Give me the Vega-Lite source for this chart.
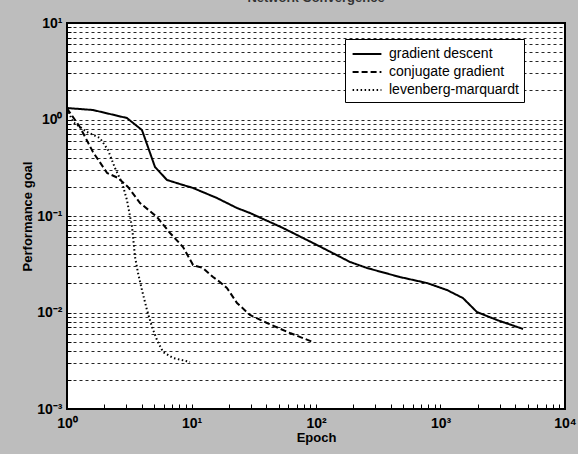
{
  "$schema": "https://vega.github.io/schema/vega-lite/v6.json",
  "width": 498,
  "height": 386,
  "autosize": "none",
  "padding": {"left": 67, "top": 23, "right": 13, "bottom": 45},
  "background": "#bdbdbd",
  "title": {"text": "Network Convergence", "fontSize": 13, "font": "Liberation Sans", "fontWeight": "bold", "color": "#333", "offset": 11, "anchor": "middle"},
  "config": {
    "view": {"fill": "white", "stroke": "black", "strokeWidth": 2},
    "axis": {"labelFont": "Liberation Sans", "labelFontWeight": "bold", "labelFontSize": 14, "labelColor": "black", "titleFont": "Liberation Sans", "titleFontWeight": "bold", "titleFontSize": 13, "titleColor": "black", "domain": false, "tickColor": "black", "tickWidth": 1}
  },
  "data": {"values": [
    {"series": "gradient descent", "epoch": 1, "perf": 1.315},
    {"series": "gradient descent", "epoch": 1.617, "perf": 1.254},
    {"series": "gradient descent", "epoch": 3.03, "perf": 1.036},
    {"series": "gradient descent", "epoch": 4.0, "perf": 0.778},
    {"series": "gradient descent", "epoch": 4.47, "perf": 0.519},
    {"series": "gradient descent", "epoch": 5.09, "perf": 0.322},
    {"series": "gradient descent", "epoch": 6.36, "perf": 0.236},
    {"series": "gradient descent", "epoch": 8.55, "perf": 0.2096},
    {"series": "gradient descent", "epoch": 10.3, "perf": 0.195},
    {"series": "gradient descent", "epoch": 16.0, "perf": 0.1536},
    {"series": "gradient descent", "epoch": 23.2, "perf": 0.121},
    {"series": "gradient descent", "epoch": 29.5, "perf": 0.1074},
    {"series": "gradient descent", "epoch": 54.3, "perf": 0.0751},
    {"series": "gradient descent", "epoch": 102, "perf": 0.05},
    {"series": "gradient descent", "epoch": 187.6, "perf": 0.0334},
    {"series": "gradient descent", "epoch": 257, "perf": 0.0289},
    {"series": "gradient descent", "epoch": 473, "perf": 0.0233},
    {"series": "gradient descent", "epoch": 779, "perf": 0.0202},
    {"series": "gradient descent", "epoch": 1127, "perf": 0.0171},
    {"series": "gradient descent", "epoch": 1516, "perf": 0.0141},
    {"series": "gradient descent", "epoch": 1964, "perf": 0.0101},
    {"series": "gradient descent", "epoch": 2843, "perf": 0.00836},
    {"series": "gradient descent", "epoch": 4600, "perf": 0.00675},
    {"series": "conjugate gradient", "epoch": 1, "perf": 1.3},
    {"series": "conjugate gradient", "epoch": 1.27, "perf": 0.836},
    {"series": "conjugate gradient", "epoch": 1.617, "perf": 0.46},
    {"series": "conjugate gradient", "epoch": 2.1, "perf": 0.279},
    {"series": "conjugate gradient", "epoch": 2.57, "perf": 0.248},
    {"series": "conjugate gradient", "epoch": 3.09, "perf": 0.1998},
    {"series": "conjugate gradient", "epoch": 3.86, "perf": 0.1364},
    {"series": "conjugate gradient", "epoch": 5.28, "perf": 0.0977},
    {"series": "conjugate gradient", "epoch": 6.72, "perf": 0.0667},
    {"series": "conjugate gradient", "epoch": 8.55, "perf": 0.0477},
    {"series": "conjugate gradient", "epoch": 10.3, "perf": 0.031},
    {"series": "conjugate gradient", "epoch": 12.37, "perf": 0.0289},
    {"series": "conjugate gradient", "epoch": 14.9, "perf": 0.0233},
    {"series": "conjugate gradient", "epoch": 16.9, "perf": 0.0207},
    {"series": "conjugate gradient", "epoch": 19.3, "perf": 0.0179},
    {"series": "conjugate gradient", "epoch": 23.2, "perf": 0.01255},
    {"series": "conjugate gradient", "epoch": 29.5, "perf": 0.00942},
    {"series": "conjugate gradient", "epoch": 40.4, "perf": 0.00778},
    {"series": "conjugate gradient", "epoch": 61.8, "perf": 0.00613},
    {"series": "conjugate gradient", "epoch": 94.6, "perf": 0.00494},
    {"series": "levenberg-marquardt", "epoch": 1, "perf": 1.3},
    {"series": "levenberg-marquardt", "epoch": 1.117, "perf": 0.942},
    {"series": "levenberg-marquardt", "epoch": 1.447, "perf": 0.742},
    {"series": "levenberg-marquardt", "epoch": 1.84, "perf": 0.643},
    {"series": "levenberg-marquardt", "epoch": 2.135, "perf": 0.483},
    {"series": "levenberg-marquardt", "epoch": 2.43, "perf": 0.314},
    {"series": "levenberg-marquardt", "epoch": 2.77, "perf": 0.22},
    {"series": "levenberg-marquardt", "epoch": 3.03, "perf": 0.1465},
    {"series": "levenberg-marquardt", "epoch": 3.33, "perf": 0.0769},
    {"series": "levenberg-marquardt", "epoch": 3.52, "perf": 0.0376},
    {"series": "levenberg-marquardt", "epoch": 3.72, "perf": 0.0257},
    {"series": "levenberg-marquardt", "epoch": 4.0, "perf": 0.0171},
    {"series": "levenberg-marquardt", "epoch": 4.39, "perf": 0.0106},
    {"series": "levenberg-marquardt", "epoch": 4.82, "perf": 0.00708},
    {"series": "levenberg-marquardt", "epoch": 5.28, "perf": 0.00519},
    {"series": "levenberg-marquardt", "epoch": 5.9, "perf": 0.0039},
    {"series": "levenberg-marquardt", "epoch": 7.1, "perf": 0.00338},
    {"series": "levenberg-marquardt", "epoch": 9.72, "perf": 0.00307}
  ]},
  "mark": {"type": "line", "color": "black", "strokeWidth": 2, "clip": true},
  "encoding": {
    "x": {
      "field": "epoch", "type": "quantitative",
      "scale": {"type": "log", "domain": [1, 10000], "nice": false},
      "axis": {
        "title": "Epoch", "titlePadding": 1, "grid": false,
        "values": [1,2,3,4,5,6,7,8,9,10,20,30,40,50,60,70,80,90,100,200,300,400,500,600,700,800,900,1000,2000,3000,4000,5000,6000,7000,8000,9000,10000],
        "tickSize": -5, "labelPadding": 12, "labelFlush": false, "labelOverlap": false, "labelBound": false,
        "labelExpr": "datum.value == 1 ? '10⁰' : datum.value == 10 ? '10¹' : datum.value == 100 ? '10²' : datum.value == 1000 ? '10³' : datum.value == 10000 ? '10⁴' : ''"
      }
    },
    "y": {
      "field": "perf", "type": "quantitative",
      "scale": {"type": "log", "domain": [0.001, 10], "nice": false},
      "axis": {
        "title": "Performance goal", "titlePadding": 2,
        "grid": true, "gridDash": [3, 3], "gridColor": "black", "gridWidth": 1, "gridOpacity": 0.85,
        "values": [0.001,0.002,0.003,0.004,0.005,0.006,0.007,0.008,0.009,0.01,0.02,0.03,0.04,0.05,0.06,0.07,0.08,0.09,0.1,0.2,0.3,0.4,0.5,0.6,0.7,0.8,0.9,1,2,3,4,5,6,7,8,9,10],
        "tickSize": -4, "labelPadding": 9, "labelFlush": false, "labelOverlap": false, "labelBound": false,
        "labelExpr": "datum.value == 10 ? '10¹' : datum.value == 1 ? '10⁰' : datum.value == 0.1 ? '10⁻¹' : datum.value == 0.01 ? '10⁻²' : datum.value == 0.001 ? '10⁻³' : ''"
      }
    },
    "strokeDash": {
      "field": "series", "type": "nominal",
      "scale": {"domain": ["gradient descent", "conjugate gradient", "levenberg-marquardt"], "range": [[1, 0], [6, 3], [1.5, 2.5]]},
      "legend": {
        "title": null, "orient": "none", "legendX": 278, "legendY": 16,
        "fillColor": "white", "strokeColor": "black", "padding": 5,
        "symbolType": "M-1.6,0L1.6,0", "symbolSize": 324, "symbolOffset": 7, "symbolStrokeColor": "black", "symbolStrokeWidth": 2,
        "labelFont": "Liberation Sans", "labelFontSize": 14, "labelColor": "black", "rowPadding": 1, "labelOffset": 12
      }
    }
  }
}
